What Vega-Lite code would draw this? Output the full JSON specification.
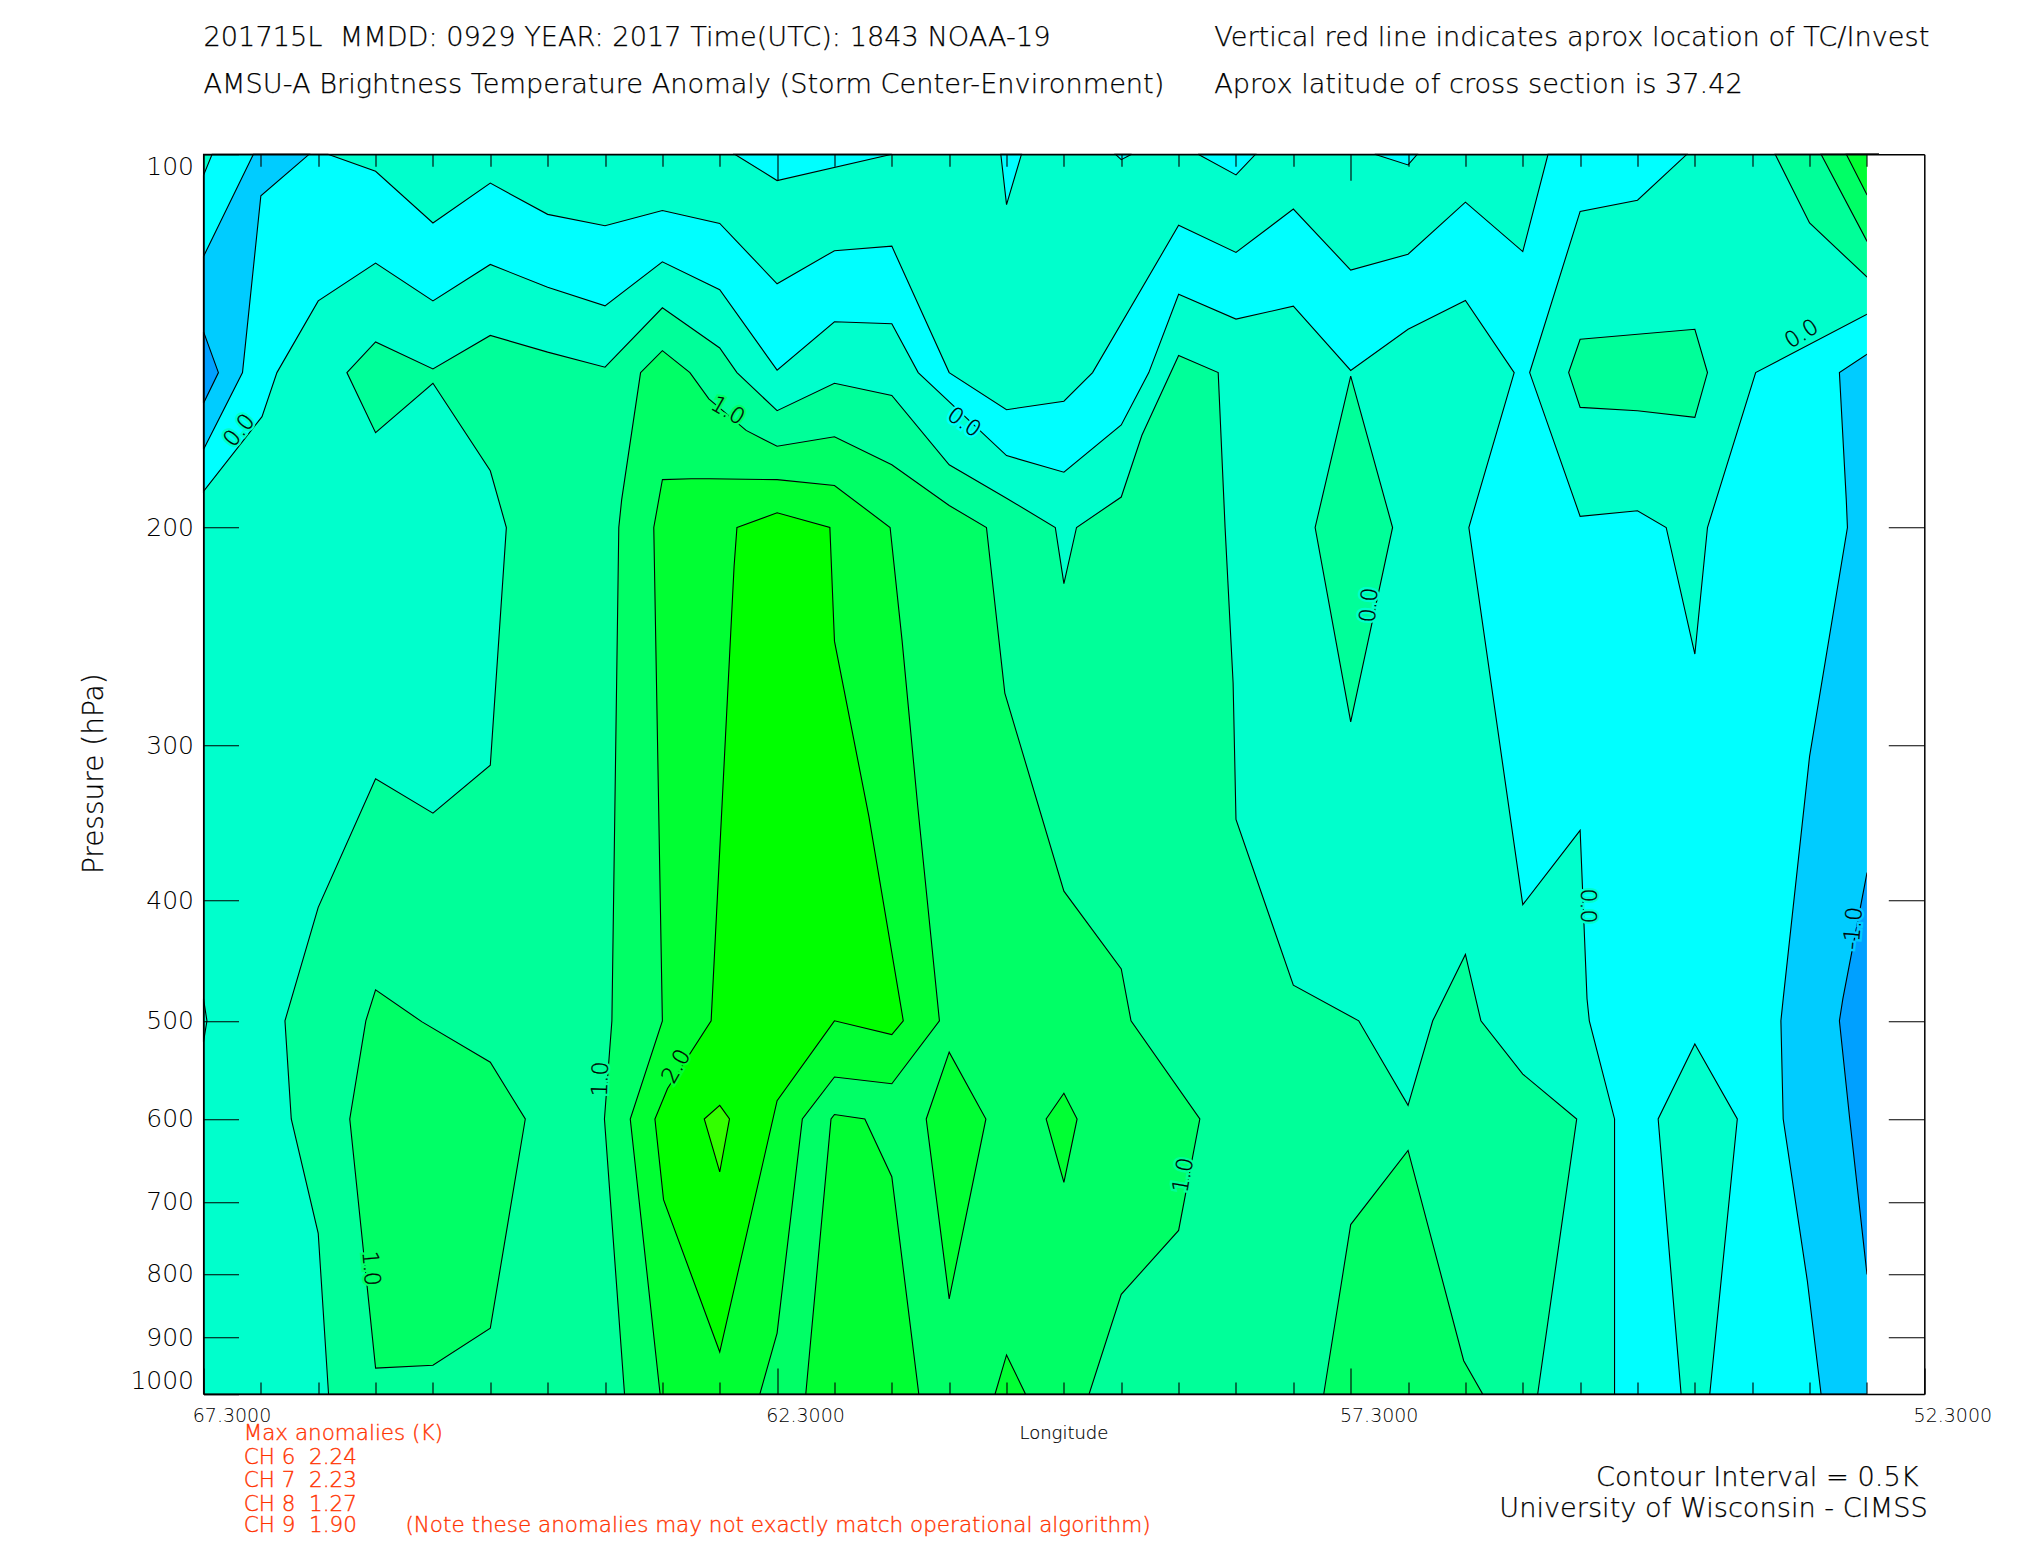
{"$schema":"https://vega.github.io/schema/vega-lite/v6.json","width":1720.8,"height":1239.7,"autosize":{"type":"none"},"padding":{"left":203.5,"top":154.3,"right":100,"bottom":155},"background":"white","view":{"stroke":null},
"datasets":{
"poly":[
{"r":1,"k":"b0","i":0,"lon":67.3,"p":100},{"r":1,"k":"b0","i":1,"lon":52.7,"p":100},{"r":1,"k":"b0","i":2,"lon":52.7,"p":1000},{"r":1,"k":"b0","i":3,"lon":67.3,"p":1000},
{"r":2,"k":"m05","i":0,"lon":66.215,"p":100},{"r":2,"k":"m05","i":1,"lon":65.8,"p":103.2},{"r":2,"k":"m05","i":2,"lon":65.3,"p":113.6},{"r":2,"k":"m05","i":3,"lon":64.8,"p":105.5},{"r":2,"k":"m05","i":4,"lon":64.3,"p":111.8},{"r":2,"k":"m05","i":5,"lon":63.8,"p":114.2},{"r":2,"k":"m05","i":6,"lon":63.3,"p":111},{"r":2,"k":"m05","i":7,"lon":62.8,"p":113.7},{"r":2,"k":"m05","i":8,"lon":62.3,"p":127.2},{"r":2,"k":"m05","i":9,"lon":61.8,"p":119.6},{"r":2,"k":"m05","i":10,"lon":61.3,"p":118.6},{"r":2,"k":"m05","i":11,"lon":60.8,"p":150},{"r":2,"k":"m05","i":12,"lon":60.3,"p":160.7},{"r":2,"k":"m05","i":13,"lon":59.8,"p":158.2},{"r":2,"k":"m05","i":14,"lon":59.55,"p":150},{"r":2,"k":"m05","i":15,"lon":58.8,"p":114.1},{"r":2,"k":"m05","i":16,"lon":58.3,"p":120},{"r":2,"k":"m05","i":17,"lon":57.8,"p":110.7},{"r":2,"k":"m05","i":18,"lon":57.3,"p":124},{"r":2,"k":"m05","i":19,"lon":56.8,"p":120.4},{"r":2,"k":"m05","i":20,"lon":56.3,"p":109.3},{"r":2,"k":"m05","i":21,"lon":55.8,"p":119.8},{"r":2,"k":"m05","i":22,"lon":55.58,"p":100},{"r":2,"k":"m05","i":23,"lon":54.37,"p":100},{"r":2,"k":"m05","i":24,"lon":54.8,"p":108.9},{"r":2,"k":"m05","i":25,"lon":55.3,"p":111.2},{"r":2,"k":"m05","i":26,"lon":55.74,"p":150},{"r":2,"k":"m05","i":27,"lon":55.3,"p":195.9},{"r":2,"k":"m05","i":28,"lon":54.8,"p":193.9},{"r":2,"k":"m05","i":29,"lon":54.55,"p":200},{"r":2,"k":"m05","i":30,"lon":54.3,"p":253},{"r":2,"k":"m05","i":31,"lon":54.19,"p":200},{"r":2,"k":"m05","i":32,"lon":53.77,"p":150},{"r":2,"k":"m05","i":33,"lon":52.8,"p":134.6},{"r":2,"k":"m05","i":34,"lon":52.7,"p":134.6},{"r":2,"k":"m05","i":35,"lon":52.7,"p":1000},{"r":2,"k":"m05","i":36,"lon":55.0,"p":1000},{"r":2,"k":"m05","i":37,"lon":55.0,"p":600},{"r":2,"k":"m05","i":38,"lon":55.22,"p":500},{"r":2,"k":"m05","i":39,"lon":55.24,"p":480},{"r":2,"k":"m05","i":40,"lon":55.3,"p":351},{"r":2,"k":"m05","i":41,"lon":55.8,"p":403},{"r":2,"k":"m05","i":42,"lon":56.27,"p":200},{"r":2,"k":"m05","i":43,"lon":56.2,"p":190},{"r":2,"k":"m05","i":44,"lon":55.875,"p":150},{"r":2,"k":"m05","i":45,"lon":56.3,"p":131.2},{"r":2,"k":"m05","i":46,"lon":56.8,"p":138.4},{"r":2,"k":"m05","i":47,"lon":57.3,"p":149.4},{"r":2,"k":"m05","i":48,"lon":57.8,"p":132.6},{"r":2,"k":"m05","i":49,"lon":58.3,"p":135.8},{"r":2,"k":"m05","i":50,"lon":58.8,"p":129.7},{"r":2,"k":"m05","i":51,"lon":59.06,"p":150},{"r":2,"k":"m05","i":52,"lon":59.3,"p":165.3},{"r":2,"k":"m05","i":53,"lon":59.8,"p":180.5},{"r":2,"k":"m05","i":54,"lon":60.3,"p":175},{"r":2,"k":"m05","i":55,"lon":61.07,"p":150},{"r":2,"k":"m05","i":56,"lon":61.3,"p":137},{"r":2,"k":"m05","i":57,"lon":61.8,"p":136.5},{"r":2,"k":"m05","i":58,"lon":62.3,"p":149.3},{"r":2,"k":"m05","i":59,"lon":62.8,"p":128.6},{"r":2,"k":"m05","i":60,"lon":63.3,"p":122.1},{"r":2,"k":"m05","i":61,"lon":63.8,"p":132.5},{"r":2,"k":"m05","i":62,"lon":64.3,"p":128},{"r":2,"k":"m05","i":63,"lon":64.8,"p":122.7},{"r":2,"k":"m05","i":64,"lon":65.3,"p":131.3},{"r":2,"k":"m05","i":65,"lon":65.8,"p":122.4},{"r":2,"k":"m05","i":66,"lon":66.3,"p":131.3},{"r":2,"k":"m05","i":67,"lon":66.66,"p":150},{"r":2,"k":"m05","i":68,"lon":66.79,"p":162.8},{"r":2,"k":"m05","i":69,"lon":67.3,"p":187},{"r":2,"k":"m05","i":70,"lon":67.3,"p":104},{"r":2,"k":"m05","i":71,"lon":67.225,"p":100},
{"r":3,"k":"m05","i":0,"lon":62.67,"p":100},{"r":3,"k":"m05","i":1,"lon":62.3,"p":105},{"r":3,"k":"m05","i":2,"lon":61.3,"p":100},
{"r":4,"k":"m05","i":0,"lon":60.35,"p":100},{"r":4,"k":"m05","i":1,"lon":60.3,"p":109.8},{"r":4,"k":"m05","i":2,"lon":60.17,"p":100},
{"r":5,"k":"m05","i":0,"lon":59.35,"p":100},{"r":5,"k":"m05","i":1,"lon":59.3,"p":101},{"r":5,"k":"m05","i":2,"lon":59.21,"p":100},
{"r":6,"k":"m05","i":0,"lon":58.63,"p":100},{"r":6,"k":"m05","i":1,"lon":58.3,"p":103.9},{"r":6,"k":"m05","i":2,"lon":58.13,"p":100},
{"r":7,"k":"m05","i":0,"lon":57.09,"p":100},{"r":7,"k":"m05","i":1,"lon":56.8,"p":102},{"r":7,"k":"m05","i":2,"lon":56.72,"p":100},
{"r":8,"k":"b0","i":0,"lon":54.3,"p":522},{"r":8,"k":"b0","i":1,"lon":53.93,"p":600},{"r":8,"k":"b0","i":2,"lon":54.17,"p":1000},{"r":8,"k":"b0","i":3,"lon":54.42,"p":1000},{"r":8,"k":"b0","i":4,"lon":54.62,"p":600},
{"r":9,"k":"m10","i":0,"lon":66.865,"p":100},{"r":9,"k":"m10","i":1,"lon":67.3,"p":120.9},{"r":9,"k":"m10","i":2,"lon":67.3,"p":173},{"r":9,"k":"m10","i":3,"lon":66.96,"p":150},{"r":9,"k":"m10","i":4,"lon":66.8,"p":108},{"r":9,"k":"m10","i":5,"lon":66.38,"p":100},
{"r":10,"k":"m15","i":0,"lon":67.3,"p":139},{"r":10,"k":"m15","i":1,"lon":67.17,"p":150},{"r":10,"k":"m15","i":2,"lon":67.3,"p":158.8},
{"r":11,"k":"m10","i":0,"lon":52.7,"p":145},{"r":11,"k":"m10","i":1,"lon":52.8,"p":145},{"r":11,"k":"m10","i":2,"lon":53.04,"p":150},{"r":11,"k":"m10","i":3,"lon":52.98,"p":190},{"r":11,"k":"m10","i":4,"lon":52.97,"p":200},{"r":11,"k":"m10","i":5,"lon":53.3,"p":306},{"r":11,"k":"m10","i":6,"lon":53.53,"p":480},{"r":11,"k":"m10","i":7,"lon":53.55,"p":500},{"r":11,"k":"m10","i":8,"lon":53.53,"p":600},{"r":11,"k":"m10","i":9,"lon":53.32,"p":810},{"r":11,"k":"m10","i":10,"lon":53.2,"p":1000},{"r":11,"k":"m10","i":11,"lon":52.7,"p":1000},
{"r":12,"k":"m15","i":0,"lon":52.7,"p":380},{"r":12,"k":"m15","i":1,"lon":52.8,"p":380},{"r":12,"k":"m15","i":2,"lon":53.01,"p":480},{"r":12,"k":"m15","i":3,"lon":53.04,"p":500},{"r":12,"k":"m15","i":4,"lon":52.95,"p":600},{"r":12,"k":"m15","i":5,"lon":52.8,"p":800},{"r":12,"k":"m15","i":6,"lon":52.7,"p":800},
{"r":13,"k":"p05","i":0,"lon":66.05,"p":150},{"r":13,"k":"p05","i":1,"lon":65.8,"p":141.7},{"r":13,"k":"p05","i":2,"lon":65.3,"p":149},{"r":13,"k":"p05","i":3,"lon":64.8,"p":140},{"r":13,"k":"p05","i":4,"lon":64.3,"p":144.4},{"r":13,"k":"p05","i":5,"lon":63.8,"p":148.5},{"r":13,"k":"p05","i":6,"lon":63.3,"p":133},{"r":13,"k":"p05","i":7,"lon":62.8,"p":143.3},{"r":13,"k":"p05","i":8,"lon":62.65,"p":150},{"r":13,"k":"p05","i":9,"lon":62.3,"p":161},{"r":13,"k":"p05","i":10,"lon":61.8,"p":153},{"r":13,"k":"p05","i":11,"lon":61.3,"p":156.5},{"r":13,"k":"p05","i":12,"lon":60.8,"p":178},{"r":13,"k":"p05","i":13,"lon":60.3,"p":189.4},{"r":13,"k":"p05","i":14,"lon":59.875,"p":200},{"r":13,"k":"p05","i":15,"lon":59.8,"p":222},{"r":13,"k":"p05","i":16,"lon":59.69,"p":200},{"r":13,"k":"p05","i":17,"lon":59.3,"p":189},{"r":13,"k":"p05","i":18,"lon":59.12,"p":168.5},{"r":13,"k":"p05","i":19,"lon":58.8,"p":145.3},{"r":13,"k":"p05","i":20,"lon":58.455,"p":150},{"r":13,"k":"p05","i":21,"lon":58.395,"p":200},{"r":13,"k":"p05","i":22,"lon":58.325,"p":267},{"r":13,"k":"p05","i":23,"lon":58.3,"p":344},{"r":13,"k":"p05","i":24,"lon":57.8,"p":468},{"r":13,"k":"p05","i":25,"lon":57.23,"p":500},{"r":13,"k":"p05","i":26,"lon":56.8,"p":585},{"r":13,"k":"p05","i":27,"lon":56.585,"p":500},{"r":13,"k":"p05","i":28,"lon":56.3,"p":442},{"r":13,"k":"p05","i":29,"lon":56.165,"p":500},{"r":13,"k":"p05","i":30,"lon":55.8,"p":552},{"r":13,"k":"p05","i":31,"lon":55.33,"p":600},{"r":13,"k":"p05","i":32,"lon":55.67,"p":1000},{"r":13,"k":"p05","i":33,"lon":66.21,"p":1000},{"r":13,"k":"p05","i":34,"lon":66.3,"p":742},{"r":13,"k":"p05","i":35,"lon":66.535,"p":600},{"r":13,"k":"p05","i":36,"lon":66.59,"p":500},{"r":13,"k":"p05","i":37,"lon":66.3,"p":405},{"r":13,"k":"p05","i":38,"lon":65.8,"p":319},{"r":13,"k":"p05","i":39,"lon":65.3,"p":340},{"r":13,"k":"p05","i":40,"lon":64.8,"p":311},{"r":13,"k":"p05","i":41,"lon":64.66,"p":200},{"r":13,"k":"p05","i":42,"lon":64.8,"p":180},{"r":13,"k":"p05","i":43,"lon":65.3,"p":153},{"r":13,"k":"p05","i":44,"lon":65.8,"p":167.7},
{"r":14,"k":"p05","i":0,"lon":55.3,"p":141},{"r":14,"k":"p05","i":1,"lon":54.3,"p":138.4},{"r":14,"k":"p05","i":2,"lon":54.19,"p":150},{"r":14,"k":"p05","i":3,"lon":54.3,"p":163},{"r":14,"k":"p05","i":4,"lon":54.8,"p":161},{"r":14,"k":"p05","i":5,"lon":55.3,"p":160},{"r":14,"k":"p05","i":6,"lon":55.4,"p":150},
{"r":15,"k":"p05","i":0,"lon":53.6,"p":100},{"r":15,"k":"p05","i":1,"lon":53.3,"p":113.6},{"r":15,"k":"p05","i":2,"lon":52.8,"p":125.6},{"r":15,"k":"p05","i":3,"lon":52.7,"p":125.6},{"r":15,"k":"p05","i":4,"lon":52.7,"p":100},
{"r":16,"k":"p05","i":0,"lon":57.3,"p":151},{"r":16,"k":"p05","i":1,"lon":56.935,"p":200},{"r":16,"k":"p05","i":2,"lon":57.3,"p":287},{"r":16,"k":"p05","i":3,"lon":57.61,"p":200},
{"r":17,"k":"p10","i":0,"lon":63.49,"p":150},{"r":17,"k":"p10","i":1,"lon":63.3,"p":144},{"r":17,"k":"p10","i":2,"lon":63.06,"p":150},{"r":17,"k":"p10","i":3,"lon":62.895,"p":157.5},{"r":17,"k":"p10","i":4,"lon":62.57,"p":167},{"r":17,"k":"p10","i":5,"lon":62.3,"p":172},{"r":17,"k":"p10","i":6,"lon":61.8,"p":169},{"r":17,"k":"p10","i":7,"lon":61.3,"p":178},{"r":17,"k":"p10","i":8,"lon":60.8,"p":192},{"r":17,"k":"p10","i":9,"lon":60.475,"p":200},{"r":17,"k":"p10","i":10,"lon":60.315,"p":272},{"r":17,"k":"p10","i":11,"lon":60.3,"p":275},{"r":17,"k":"p10","i":12,"lon":59.8,"p":393},{"r":17,"k":"p10","i":13,"lon":59.3,"p":454},{"r":17,"k":"p10","i":14,"lon":59.215,"p":500},{"r":17,"k":"p10","i":15,"lon":58.615,"p":600},{"r":17,"k":"p10","i":16,"lon":58.8,"p":738},{"r":17,"k":"p10","i":17,"lon":59.3,"p":831},{"r":17,"k":"p10","i":18,"lon":59.58,"p":1000},{"r":17,"k":"p10","i":19,"lon":63.63,"p":1000},{"r":17,"k":"p10","i":20,"lon":63.805,"p":600},{"r":17,"k":"p10","i":21,"lon":63.74,"p":500},{"r":17,"k":"p10","i":22,"lon":63.68,"p":200},{"r":17,"k":"p10","i":23,"lon":63.655,"p":190},
{"r":18,"k":"p10","i":0,"lon":66.025,"p":600},{"r":18,"k":"p10","i":1,"lon":65.885,"p":500},{"r":18,"k":"p10","i":2,"lon":65.8,"p":472},{"r":18,"k":"p10","i":3,"lon":65.395,"p":501},{"r":18,"k":"p10","i":4,"lon":64.8,"p":540},{"r":18,"k":"p10","i":5,"lon":64.495,"p":600},{"r":18,"k":"p10","i":6,"lon":64.8,"p":885},{"r":18,"k":"p10","i":7,"lon":65.3,"p":948},{"r":18,"k":"p10","i":8,"lon":65.8,"p":953},
{"r":19,"k":"p10","i":0,"lon":57.535,"p":1000},{"r":19,"k":"p10","i":1,"lon":57.3,"p":730},{"r":19,"k":"p10","i":2,"lon":56.8,"p":636},{"r":19,"k":"p10","i":3,"lon":56.315,"p":940},{"r":19,"k":"p10","i":4,"lon":56.15,"p":1000},
{"r":20,"k":"p10","i":0,"lon":53.2,"p":100},{"r":20,"k":"p10","i":1,"lon":52.8,"p":117.5},{"r":20,"k":"p10","i":2,"lon":52.7,"p":117.5},{"r":20,"k":"p10","i":3,"lon":52.7,"p":100},
{"r":21,"k":"p15","i":0,"lon":63.3,"p":183},{"r":21,"k":"p15","i":1,"lon":63.05,"p":182.7},{"r":21,"k":"p15","i":2,"lon":62.89,"p":182.7},{"r":21,"k":"p15","i":3,"lon":62.3,"p":183},{"r":21,"k":"p15","i":4,"lon":61.8,"p":185},{"r":21,"k":"p15","i":5,"lon":61.315,"p":200},{"r":21,"k":"p15","i":6,"lon":61.21,"p":247},{"r":21,"k":"p15","i":7,"lon":61.075,"p":335},{"r":21,"k":"p15","i":8,"lon":60.885,"p":500},{"r":21,"k":"p15","i":9,"lon":61.3,"p":562},{"r":21,"k":"p15","i":10,"lon":61.8,"p":555},{"r":21,"k":"p15","i":11,"lon":62.08,"p":600},{"r":21,"k":"p15","i":12,"lon":62.3,"p":893},{"r":21,"k":"p15","i":13,"lon":62.45,"p":1000},{"r":21,"k":"p15","i":14,"lon":63.32,"p":1000},{"r":21,"k":"p15","i":15,"lon":63.58,"p":600},{"r":21,"k":"p15","i":16,"lon":63.3,"p":500},{"r":21,"k":"p15","i":17,"lon":63.375,"p":200},
{"r":22,"k":"p15","i":0,"lon":62.05,"p":1000},{"r":22,"k":"p15","i":1,"lon":61.83,"p":600},{"r":22,"k":"p15","i":2,"lon":61.8,"p":595},{"r":22,"k":"p15","i":3,"lon":61.535,"p":600},{"r":22,"k":"p15","i":4,"lon":61.3,"p":668},{"r":22,"k":"p15","i":5,"lon":61.065,"p":1000},
{"r":23,"k":"p15","i":0,"lon":61.0,"p":600},{"r":23,"k":"p15","i":1,"lon":60.8,"p":530},{"r":23,"k":"p15","i":2,"lon":60.48,"p":600},{"r":23,"k":"p15","i":3,"lon":60.8,"p":838},
{"r":24,"k":"p15","i":0,"lon":59.955,"p":600},{"r":24,"k":"p15","i":1,"lon":59.8,"p":572},{"r":24,"k":"p15","i":2,"lon":59.685,"p":600},{"r":24,"k":"p15","i":3,"lon":59.8,"p":675},
{"r":25,"k":"p15","i":0,"lon":60.4,"p":1000},{"r":25,"k":"p15","i":1,"lon":60.3,"p":930},{"r":25,"k":"p15","i":2,"lon":60.135,"p":1000},
{"r":26,"k":"p15","i":0,"lon":52.98,"p":100},{"r":26,"k":"p15","i":1,"lon":52.8,"p":107.8},{"r":26,"k":"p15","i":2,"lon":52.7,"p":107.8},{"r":26,"k":"p15","i":3,"lon":52.7,"p":100},
{"r":27,"k":"p20","i":0,"lon":62.65,"p":200},{"r":27,"k":"p20","i":1,"lon":62.3,"p":194.6},{"r":27,"k":"p20","i":2,"lon":61.84,"p":200},{"r":27,"k":"p20","i":3,"lon":61.8,"p":247},{"r":27,"k":"p20","i":4,"lon":61.5,"p":342},{"r":27,"k":"p20","i":5,"lon":61.2,"p":500},{"r":27,"k":"p20","i":6,"lon":61.3,"p":513},{"r":27,"k":"p20","i":7,"lon":61.8,"p":500},{"r":27,"k":"p20","i":8,"lon":62.3,"p":580},{"r":27,"k":"p20","i":9,"lon":62.8,"p":925},{"r":27,"k":"p20","i":10,"lon":63.29,"p":697},{"r":27,"k":"p20","i":11,"lon":63.365,"p":600},{"r":27,"k":"p20","i":12,"lon":63.255,"p":567},{"r":27,"k":"p20","i":13,"lon":62.875,"p":500},{"r":27,"k":"p20","i":14,"lon":62.675,"p":215},
{"r":28,"k":"p25","i":0,"lon":62.935,"p":600},{"r":28,"k":"p25","i":1,"lon":62.8,"p":585},{"r":28,"k":"p25","i":2,"lon":62.715,"p":600},{"r":28,"k":"p25","i":3,"lon":62.8,"p":662},
{"r":29,"k":"b0","i":0,"lon":67.3,"p":480},{"r":29,"k":"b0","i":1,"lon":67.27,"p":500},{"r":29,"k":"b0","i":2,"lon":67.3,"p":520}
],
"labels":[
{"t":"0.0","lon":66.99,"p":167,"a":-50,"k":"b0"},{"t":"1.0","lon":62.73,"p":161,"a":30,"k":"p10"},{"t":"0.0","lon":60.67,"p":164.5,"a":35,"k":"m05"},{"t":"0.0","lon":53.37,"p":139.6,"a":-32,"k":"b0"},{"t":"0.0","lon":57.14,"p":231,"a":-85,"k":"b0"},{"t":"0.0","lon":55.23,"p":404,"a":90,"k":"b0"},{"t":"-1.0","lon":52.92,"p":421,"a":-85,"k":"m10"},{"t":"1.0","lon":63.84,"p":557,"a":-88,"k":"p05"},{"t":"2.0","lon":63.18,"p":544,"a":-60,"k":"p15"},{"t":"1.0","lon":65.84,"p":792,"a":85,"k":"p10"},{"t":"1.0","lon":58.76,"p":666,"a":-80,"k":"p05"}
],
"head":[
{"t":"201715L\u00a0\u00a0MMDD: 0929 YEAR: 2017 Time(UTC): 1843 NOAA-19","lon":67.3,"p":80.5},{"t":"AMSU-A Brightness Temperature Anomaly (Storm Center-Environment)","lon":67.3,"p":88},{"t":"Vertical red line indicates aprox location of TC/Invest","lon":58.49,"p":80.5},{"t":"Aprox latitude of cross section is 37.42","lon":58.49,"p":88}
],
"orange":[
{"t":"Max anomalies (K)","lon":66.95,"p":1077},{"t":"CH 6\u00a0\u00a02.24","lon":66.95,"p":1127},{"t":"CH 7\u00a0\u00a02.23","lon":66.95,"p":1176},{"t":"CH 8\u00a0\u00a01.27","lon":66.95,"p":1228},{"t":"CH 9\u00a0\u00a01.90","lon":66.95,"p":1279},{"t":"(Note these anomalies may not exactly match operational algorithm)","lon":65.54,"p":1279}
],
"credit":[
{"t":"Contour Interval = 0.5K","lon":52.35,"p":1168},{"t":"University of Wisconsin - CIMSS","lon":52.27,"p":1237}
],
"mask":[{"lon":52.8,"lon2":52.3,"p":100,"p2":1000}],
"ytitle":[{"t":"Pressure (hPa)","lon":68.25,"p":316}],
"xtitle":[{"t":"Longitude","lon":59.8,"p":1077}]
},
"resolve":{"axis":{"x":"independent","y":"independent"}},
"layer":[
{"data":{"name":"poly"},"mark":{"type":"line","interpolate":"linear-closed","stroke":"black","strokeWidth":1.1,"clip":false},
"encoding":{
"x":{"field":"lon","type":"quantitative","scale":{"domain":[67.3,52.3],"nice":false,"zero":false},"axis":{"orient":"bottom","title":null,"zindex":1,"grid":false,"domainColor":"black","domainWidth":1.5,"tickColor":"black","tickWidth":1.1,"values":[67.3,66.8,66.3,65.8,65.3,64.8,64.3,63.8,63.3,62.8,62.3,61.8,61.3,60.8,60.3,59.8,59.3,58.8,58.3,57.8,57.3,56.8,56.3,55.8,55.3,54.8,54.3,53.8,53.3,52.8,52.3],"tickSize":{"condition":{"test":"abs(datum.value-62.3)<0.01||abs(datum.value-57.3)<0.01||abs(datum.value-67.3)<0.01||abs(datum.value-52.3)<0.01","value":-26},"value":-12},"labelExpr":"abs(datum.value-62.3)<0.01||abs(datum.value-57.3)<0.01||abs(datum.value-67.3)<0.01||abs(datum.value-52.3)<0.01?format(datum.value,'.4f'):''","labelOffset":28,"labelPadding":39,"labelFont":"DejaVu Sans","labelFontWeight":200,"labelFontSize":19,"labelColor":"black","labelFlush":false,"labelOverlap":false,"labelBaseline":"top"}},
"y":{"field":"p","type":"quantitative","scale":{"type":"log","domain":[100,1000],"nice":false,"reverse":true},"axis":{"orient":"left","title":null,"zindex":1,"grid":false,"domainColor":"black","domainWidth":1.5,"tickColor":"black","tickWidth":1.1,"values":[100,200,300,400,500,600,700,800,900,1000],"tickSize":-35,"labelPadding":45,"labelFont":"DejaVu Sans","labelFontWeight":200,"labelFontSize":25,"labelColor":"black","labelFlush":true,"labelOverlap":false,"format":"d"}},
"detail":{"field":"r","type":"nominal"},
"order":{"field":"i","type":"quantitative"},
"fill":{"field":"k","type":"nominal","legend":null,"scale":{"domain":["m15","m10","m05","b0","p05","p10","p15","p20","p25"],"range":["#00A0FF","#00CCFF","#00FFFF","#00FFCC","#00FF99","#00FF66","#00FF33","#00FF00","#33FF00"]}}
}},
{"data":{"name":"mask"},"mark":{"type":"rect","fill":"white","stroke":null},
"encoding":{
"x":{"field":"lon","type":"quantitative","axis":{"orient":"top","title":null,"zindex":1,"grid":false,"domainColor":"black","domainWidth":1.5,"tickColor":"black","tickWidth":1.1,"labels":false,"values":[66.8,66.3,65.8,65.3,64.8,64.3,63.8,63.3,62.8,62.3,61.8,61.3,60.8,60.3,59.8,59.3,58.8,58.3,57.8,57.3,56.8,56.3,55.8,55.3,54.8,54.3,53.8,53.3,52.8],"tickSize":{"condition":{"test":"abs(datum.value-62.3)<0.01||abs(datum.value-57.3)<0.01","value":-26},"value":-12}}},
"x2":{"field":"lon2"},
"y":{"field":"p","type":"quantitative","axis":{"orient":"right","title":null,"zindex":1,"grid":false,"domainColor":"black","domainWidth":1.5,"tickColor":"black","tickWidth":1.1,"labels":false,"values":[200,300,400,500,600,700,800,900],"tickSize":-36}},
"y2":{"field":"p2"}
}},
{"data":{"name":"labels"},"mark":{"type":"text","font":"DejaVu Sans","fontWeight":200,"fontSize":22,"strokeWidth":5,"baseline":"middle","align":"center","clip":false},
"encoding":{"x":{"field":"lon","type":"quantitative","axis":null},"y":{"field":"p","type":"quantitative","axis":null},"text":{"field":"t"},"angle":{"field":"a","type":"quantitative","scale":null},"stroke":{"field":"k","type":"nominal","legend":null,"scale":{"domain":["m15","m10","m05","b0","p05","p10","p15","p20","p25"],"range":["#00A0FF","#00CCFF","#00FFFF","#00FFCC","#00FF99","#00FF66","#00FF33","#00FF00","#33FF00"]}},"fill":{"field":"k","type":"nominal","legend":null,"scale":{"domain":["m15","m10","m05","b0","p05","p10","p15","p20","p25"],"range":["#00A0FF","#00CCFF","#00FFFF","#00FFCC","#00FF99","#00FF66","#00FF33","#00FF00","#33FF00"]}}}},
{"data":{"name":"labels"},"mark":{"type":"text","font":"DejaVu Sans","fontWeight":200,"fontSize":22,"fill":"black","stroke":"black","strokeWidth":0.3,"baseline":"middle","align":"center"},
"encoding":{"x":{"field":"lon","type":"quantitative","axis":null},"y":{"field":"p","type":"quantitative","axis":null},"text":{"field":"t"},"angle":{"field":"a","type":"quantitative","scale":null}}},
{"data":{"name":"head"},"mark":{"type":"text","font":"DejaVu Sans","fontWeight":200,"fontSize":27.2,"fill":"black","stroke":"black","strokeWidth":0.25,"baseline":"middle","align":"left"},
"encoding":{"x":{"field":"lon","type":"quantitative","axis":null},"y":{"field":"p","type":"quantitative","axis":null},"text":{"field":"t"}}},
{"data":{"name":"orange"},"mark":{"type":"text","font":"DejaVu Sans","fontWeight":200,"fontSize":21.5,"fill":"#FF3300","stroke":"#FF3300","strokeWidth":0.35,"baseline":"middle","align":"left"},
"encoding":{"x":{"field":"lon","type":"quantitative","axis":null},"y":{"field":"p","type":"quantitative","axis":null},"text":{"field":"t"}}},
{"data":{"name":"credit"},"mark":{"type":"text","font":"DejaVu Sans","fontWeight":200,"fontSize":27.2,"fill":"black","stroke":"black","strokeWidth":0.25,"baseline":"middle","align":"right"},
"encoding":{"x":{"field":"lon","type":"quantitative","axis":null},"y":{"field":"p","type":"quantitative","axis":null},"text":{"field":"t"}}},
{"data":{"name":"ytitle"},"mark":{"type":"text","font":"DejaVu Sans","fontWeight":200,"fontSize":28,"fill":"black","stroke":"black","strokeWidth":0.25,"baseline":"middle","align":"center","angle":270},
"encoding":{"x":{"field":"lon","type":"quantitative","axis":null},"y":{"field":"p","type":"quantitative","axis":null},"text":{"field":"t"}}},
{"data":{"name":"xtitle"},"mark":{"type":"text","font":"DejaVu Sans","fontWeight":200,"fontSize":18,"fill":"black","stroke":"black","strokeWidth":0.2,"baseline":"middle","align":"center"},
"encoding":{"x":{"field":"lon","type":"quantitative","axis":null},"y":{"field":"p","type":"quantitative","axis":null},"text":{"field":"t"}}}
]}
